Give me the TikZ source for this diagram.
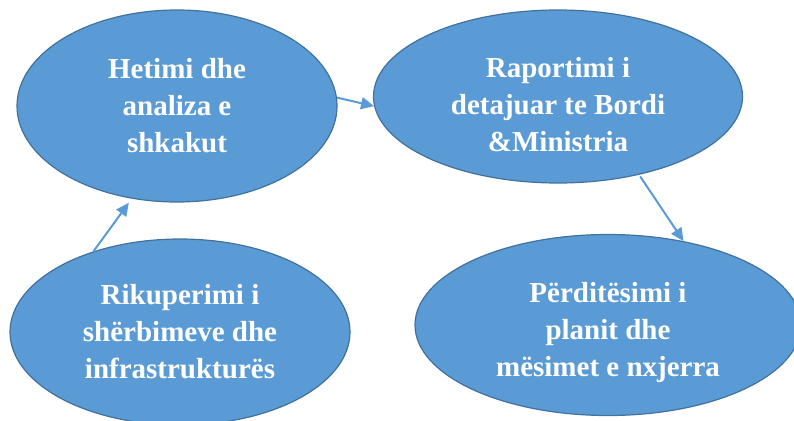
\documentclass[tikz,border=0pt]{standalone}
\usepackage{fontspec}
\setmainfont{Liberation Serif}
\usetikzlibrary{shapes.geometric,arrows.meta}
\definecolor{fillblue}{HTML}{5B9BD5}
\definecolor{edgeblue}{HTML}{41719C}
\newcommand{\dropstrut}{\rule{0pt}{36pt}}
\tikzset{
  bubble/.style={ellipse, draw=edgeblue, line width=1.2pt, fill=fillblue, inner sep=0pt,
    text=white, align=center, font=\bfseries\fontsize{29}{37}\selectfont},
  link/.style={draw=fillblue, line width=2pt, -{Triangle[length=13pt,width=12pt]}}
}
\begin{document}
\begin{tikzpicture}[x=1pt,y=-1pt]
\useasboundingbox (0,0) rectangle (794,420);
\clip (0,0) rectangle (794,420);
\node[bubble, minimum width=320pt, minimum height=192pt] (e1) at (177,106) {Hetimi dhe\\analiza e\\shkakut};
\node[bubble, minimum width=369pt, minimum height=173pt] (e2) at (558,96.5) {\dropstrut Raportimi i\\detajuar te Bordi\\\&Ministria};
\node[bubble, minimum width=340pt, minimum height=186pt] (e3) at (180,332) {Rikuperimi i\\shërbimeve dhe\\infrastrukturës};
\node[bubble, minimum width=386pt, minimum height=181pt] (e4) at (608,325) {\dropstrut Përditësimi i\\planit dhe\\mësimet e nxjerra};
\draw[link, shorten >=5pt] (e3.137) -- (e1.244);
\draw[link] (e1.3) -- (e2.183);
\draw[link, shorten <=2pt] (e2.-44) -- (e4.48);
\end{tikzpicture}
\end{document}
